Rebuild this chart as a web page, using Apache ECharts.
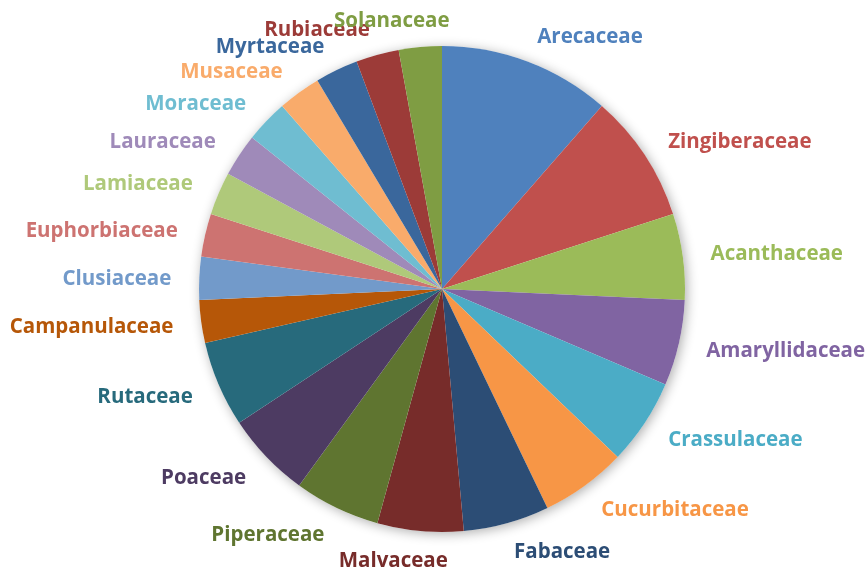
<!DOCTYPE html>
<html>
<head>
<meta charset="utf-8">
<script src="https://cdn.jsdelivr.net/npm/echarts@6/dist/echarts.min.js"></script>
<style>html,body{margin:0;padding:0;background:#fff;}#c{width:866px;height:567px;}</style>
</head>
<body>
<div id="c"></div>
<script>
const categories = ["Arecaceae","Zingiberaceae","Acanthaceae","Amaryllidaceae","Crassulaceae","Cucurbitaceae","Fabaceae","Malvaceae","Piperaceae","Poaceae","Rutaceae","Campanulaceae","Clusiaceae","Euphorbiaceae","Lamiaceae","Lauraceae","Moraceae","Musaceae","Myrtaceae","Rubiaceae","Solanaceae"];
const values = [4,3,2,2,2,2,2,2,2,2,2,1,1,1,1,1,1,1,1,1,1];
const colors = ["#4F81BD","#C0504D","#9BBB59","#8064A2","#4BACC6","#F79646","#2C4D75","#772C2A","#5F7530","#4D3B62","#276A7C","#B65708","#729ACA","#CD7371","#AFC97A","#9F8AB9","#6FBDD1","#F9AB6B","#3A679C","#9C3B38","#7F9D43"];

// Excel-like "outside end" label placement: anchor on the radial line a bit
// beyond the edge, text sliding from right-aligned (left side) to left-aligned (right side).
const LABEL_GAP = 28;
function excelLabelLayout(params) {
  const pts = params.labelLinePoints;
  if (!pts || pts.length < 2) return {};
  const p0 = pts[0], p1 = pts[1];
  let dx = p1[0] - p0[0], dy = p1[1] - p0[1];
  const len = Math.sqrt(dx * dx + dy * dy) || 1;
  dx /= len; dy /= len;
  const ax = p0[0] + dx * LABEL_GAP;
  const ay = p0[1] + dy * LABEL_GAP;
  const w = params.labelRect.width;
  const f = Math.max(-1, Math.min(1, dx * 5));
  return { x: ax + f * w / 2, y: ay + 2, align: 'center', verticalAlign: 'middle', hideOverlap: false, moveOverlap: null };
}

const chart = echarts.init(document.getElementById('c'));
chart.setOption({
  animation: false,
  series: [
    {
      type: 'pie', silent: true, center: [442, 289], radius: 243, z: 1,
      label: {show: false}, labelLine: {show: false},
      itemStyle: {color: '#ffffff', shadowBlur: 12, shadowColor: 'rgba(0,0,0,0.32)', shadowOffsetX: 2, shadowOffsetY: 2},
      data: [{value: 1, name: ''}]
    },
    {
      type: 'pie', center: [442, 289], radius: 243, z: 2,
      startAngle: 90, clockwise: true,
      avoidLabelOverlap: false,
      itemStyle: {borderWidth: 0},
      label: {
        show: true, position: 'outside', formatter: '{b}',
        fontFamily: 'Open Sans', fontWeight: 'bold', fontSize: 20.5
      },
      labelLine: {show: true, length: 20, length2: 0, lineStyle: {width: 0, opacity: 0}},
      labelLayout: excelLabelLayout,
      data: categories.map((n, i) => ({
        name: n, value: values[i],
        itemStyle: {color: colors[i]},
        label: {color: colors[i]}
      }))
    }
  ]
});
</script>
</body>
</html>
